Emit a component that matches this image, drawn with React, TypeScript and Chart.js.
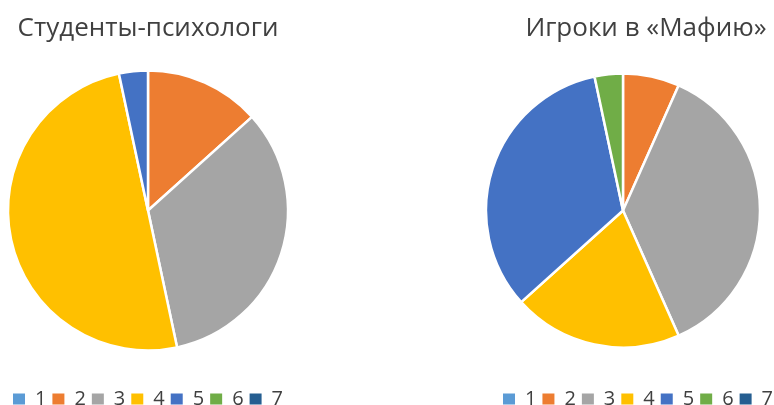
import React, { useEffect, useRef } from 'react';
import { Chart, registerables } from 'chart.js';

Chart.register(...registerables);

const categories = ['1', '2', '3', '4', '5', '6', '7'];
const studentsValues = [0, 4, 10, 15, 1, 0, 0];
const mafiaValues = [0, 2, 11, 6, 10, 1, 0];
const sliceColors = ['#5B9BD5', '#ED7D31', '#A5A5A5', '#FFC000', '#4472C4', '#70AD47', '#255E91'];
const studentsTitle = 'Студенты-психологи';
const mafiaTitle = 'Игроки в «Мафию»';

const FONT = "'Open Sans', 'Noto Sans', sans-serif";
const TEXT_COLOR = '#404040';

type PieProps = {
  title: string;
  values: number[];
  left: number;
  width: number;
  padLeft: number;
  spacerRight: number;
  radius: number;
  legendAlign: 'start' | 'center' | 'end';
};

function PieChart({ title, values, left, width, padLeft, spacerRight, radius, legendAlign }: PieProps) {
  const ref = useRef<HTMLCanvasElement | null>(null);
  useEffect(() => {
    if (!ref.current) return;
    const chart = new Chart(ref.current, {
      type: 'pie',
      data: {
        labels: categories,
        datasets: [
          {
            data: values,
            backgroundColor: sliceColors,
            borderColor: '#ffffff',
            borderWidth: 2.5,
            clip: false,
            radius: radius,
          } as any,
        ],
      },
      options: {
        responsive: true,
        maintainAspectRatio: false,
        animation: false,
        layout: { padding: { left: padLeft, right: 0, top: 0, bottom: 0 } },
        plugins: {
          title: {
            display: true,
            text: title,
            color: TEXT_COLOR,
            font: { family: FONT, size: 26, weight: 'normal', lineHeight: 1 },
            padding: { top: 16, bottom: -4 },
          },
          subtitle: {
            display: spacerRight > 0,
            position: 'right',
            text: '',
            fullSize: false,
            font: { size: 1, lineHeight: 1 },
            padding: { top: 0, bottom: Math.max(spacerRight - 1, 0) },
          },
          legend: {
            position: 'bottom',
            align: legendAlign,
            labels: {
              boxWidth: 12,
              boxHeight: 11,
              padding: 6,
              color: TEXT_COLOR,
              font: { family: FONT, size: 20 },
              generateLabels: () =>
                categories.map((text, i) => ({
                  text,
                  fillStyle: sliceColors[i],
                  strokeStyle: sliceColors[i],
                  lineWidth: 0,
                  fontColor: TEXT_COLOR,
                  hidden: false,
                  index: i,
                })),
            },
          },
          tooltip: { enabled: false },
        },
      } as any,
    });
    return () => chart.destroy();
  }, [title, values, padLeft, spacerRight, radius, legendAlign]);

  return (
    <div style={{ position: 'absolute', left, top: 0, width, height: 419 }}>
      <canvas ref={ref} />
    </div>
  );
}

export default function App() {
  return (
    <div
      style={{
        position: 'fixed',
        left: 0,
        top: 0,
        width: 774,
        height: 405,
        overflow: 'hidden',
        background: '#ffffff',
      }}
    >
      <PieChart
        title={studentsTitle}
        values={studentsValues}
        left={0}
        width={296}
        padLeft={0}
        spacerRight={0}
        radius={140}
        legendAlign="center"
      />
      <PieChart
        title={mafiaTitle}
        values={mafiaValues}
        left={485}
        width={310}
        padLeft={12}
        spacerRight={46}
        radius={137}
        legendAlign="start"
      />
    </div>
  );
}
